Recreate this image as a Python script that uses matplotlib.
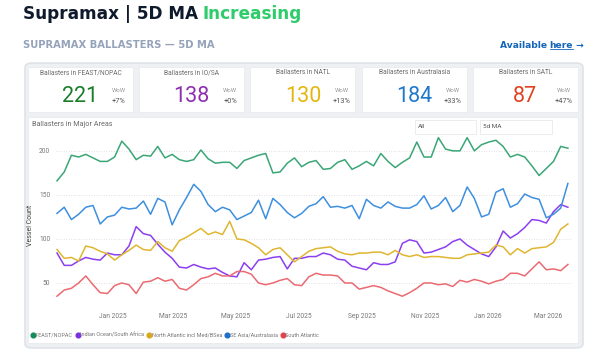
import matplotlib
matplotlib.use("Agg")
import matplotlib.pyplot as plt
import matplotlib.dates as mdates
from matplotlib.patches import FancyBboxPatch, Rectangle
from matplotlib.lines import Line2D
import pandas as pd

W, H = 605, 364

# weekly samples of the 5d MA
dates = pd.date_range("2024-11-08", periods=72, freq="7D")
feast = [166, 176, 195, 193, 196, 192, 188, 188, 193, 211, 202, 190, 195, 194, 205, 192, 196, 190,
         188, 190, 201, 191, 186, 187, 187, 180, 189, 192, 195, 197, 175, 176, 186, 192, 182,
         187, 189, 179, 180, 187, 190, 179, 183, 188, 183, 197, 188, 181, 187, 192, 210, 193,
         193, 215, 202, 200, 200, 215, 200, 207, 210, 212, 205, 193, 196, 193, 183, 172, 180, 188, 205, 203]
iosa = [84, 70, 70, 75, 79, 77, 76, 84, 82, 82, 92, 114, 106, 104, 94, 85, 78, 68,
        67, 71, 68, 66, 67, 62, 58, 57, 73, 65, 76, 77, 79, 80, 66, 78, 78,
        80, 80, 84, 82, 77, 76, 69, 67, 65, 73, 71, 71, 74, 95, 99, 97, 84,
        85, 88, 91, 97, 100, 93, 88, 83, 80, 91, 109, 101, 106, 113, 122, 121, 118, 131, 139, 136]
natl = [88, 78, 79, 75, 92, 90, 86, 83, 76, 82, 87, 93, 88, 87, 97, 90, 86, 98,
        102, 107, 112, 105, 108, 105, 120, 100, 99, 95, 90, 82, 88, 90, 82, 74, 80,
        86, 89, 90, 91, 86, 83, 82, 84, 84, 85, 85, 82, 87, 82, 80, 82, 79,
        80, 80, 79, 78, 78, 82, 83, 84, 85, 93, 91, 82, 89, 84, 89, 90, 91, 96, 111, 117]
seaus = [129, 136, 122, 128, 136, 138, 117, 125, 127, 136, 134, 135, 143, 128, 146, 142, 116, 133,
         147, 162, 154, 139, 131, 136, 133, 122, 126, 130, 144, 123, 146, 139, 130, 124, 129,
         137, 140, 148, 136, 137, 135, 138, 123, 145, 138, 135, 142, 137, 135, 135, 139, 149,
         134, 138, 147, 131, 138, 159, 146, 125, 128, 153, 157, 136, 140, 151, 147, 145, 124, 128, 135, 163]
satl = [35, 42, 44, 50, 58, 48, 39, 38, 47, 50, 48, 38, 51, 52, 56, 52, 54, 44,
        42, 48, 55, 57, 61, 58, 58, 63, 63, 60, 50, 48, 50, 53, 55, 48, 47,
        57, 61, 59, 59, 58, 50, 50, 43, 45, 47, 45, 41, 38, 35, 39, 44, 50,
        50, 48, 49, 46, 53, 51, 54, 52, 49, 52, 54, 61, 61, 58, 66, 74, 65, 66, 64, 71]

series_names = ["FEAST/NOPAC", "Indian Ocean/South Africa", "North Atlantic incl Med/BSea",
                "SE Asia/Australasia", "South Atlantic"]
line_colors = ["#3aa676", "#8b3ff0", "#dfb630", "#3d8fe0", "#ea6a72"]
legend_colors = ["#168a5a", "#7a2fe0", "#d9a91a", "#1e6fc8", "#e2424c"]

card_titles = ["Ballasters in FEAST/NOPAC", "Ballasters in IO/SA", "Ballasters in NATL",
               "Ballasters in Australasia", "Ballasters in SATL"]
card_values = ["221", "138", "130", "184", "87"]
card_wow = ["+7%", "+0%", "+13%", "+33%", "+47%"]
card_colors = ["#1b7d2c", "#8e2fb0", "#e3b712", "#1f78c8", "#e2401e"]


def fx(x):
    return x / W


def fy(y):
    return 1 - y / H


fig = plt.figure(figsize=(W / 100, H / 100), dpi=100)
fig.patch.set_facecolor("white")

# header
t1 = fig.text(fx(23), fy(14), "Supramax | 5D MA", fontsize=12.2, fontweight="bold",
              color="#0f1b2d", va="center", ha="left", family="DejaVu Sans")
fig.canvas.draw()
r = fig.canvas.get_renderer()
bb = t1.get_window_extent(r)
fig.text(bb.x1 / W + fx(5), fy(14), "Increasing", fontsize=12.2, fontweight="bold",
         color="#2ecc6a", va="center", ha="left", family="DejaVu Sans")

fig.text(fx(23), fy(45), "SUPRAMAX BALLASTERS — 5D MA", fontsize=7.2, fontweight="bold",
         color="#95a3ba", va="center", ha="left", family="DejaVu Sans")
t_arrow = fig.text(fx(584), fy(45), " →", fontsize=6.6, fontweight="bold", color="#1565b8",
                   va="center", ha="right", family="DejaVu Sans")
fig.canvas.draw()
ba = t_arrow.get_window_extent(r)
t_here = fig.text(ba.x0 / W, fy(45), "here", fontsize=6.6, fontweight="bold", color="#1565b8",
                  va="center", ha="right", family="DejaVu Sans")
fig.canvas.draw()
bh = t_here.get_window_extent(r)
fig.text(bh.x0 / W, fy(45), "Available ", fontsize=6.6, fontweight="bold", color="#1565b8",
         va="center", ha="right", family="DejaVu Sans")
fig.add_artist(Line2D([bh.x0 / W, bh.x1 / W], [bh.y0 / H + 0.002] * 2, color="#1565b8", lw=0.6))

# dashboard panel
fig.add_artist(FancyBboxPatch((fx(25), fy(348)), fx(558), 285 / H,
                              boxstyle="round,pad=0,rounding_size=0.012",
                              transform=fig.transFigure, facecolor="#eef0f3",
                              edgecolor="#dfe3e8", lw=1.2))

# KPI cards
for i in range(5):
    x0 = 28 + i * 111.2
    fig.add_artist(Rectangle((fx(x0), fy(112)), fx(105), 45 / H, transform=fig.transFigure,
                             facecolor="white", edgecolor="#e6e8eb", lw=0.5))
    cx = x0 + 52.5
    fig.text(fx(cx), fy(73), card_titles[i], fontsize=4.8, color="#6b6b6b",
             ha="center", va="center", family="Roboto")
    fig.text(fx(cx), fy(96), card_values[i], fontsize=15.5, color=card_colors[i],
             ha="center", va="center", family="Roboto")
    fig.text(fx(x0 + 91), fy(91), "WoW", fontsize=4.3, color="#9a9a9a",
             ha="center", va="center", family="Roboto")
    fig.text(fx(x0 + 91), fy(101.5), card_wow[i], fontsize=5.3, color="#555555",
             ha="center", va="center", family="Roboto")

# chart card
fig.add_artist(Rectangle((fx(28), fy(343)), fx(550), 226 / H, transform=fig.transFigure,
                         facecolor="white", edgecolor="#e6e8eb", lw=0.5))
fig.text(fx(32), fy(125), "Ballasters in Major Areas", fontsize=5.2, color="#6b6b6b",
         ha="left", va="center", family="Roboto")
for (a, b), lab in zip([(415, 476), (480, 552)], ["All", "5d MA"]):
    fig.add_artist(Rectangle((fx(a), fy(134)), fx(b - a), 14 / H, transform=fig.transFigure,
                             facecolor="white", edgecolor="#e3e5e8", lw=0.5))
    fig.text(fx(a + 3), fy(127), lab, fontsize=4.6, color="#555555",
             ha="left", va="center", family="Roboto")

ax = fig.add_axes([fx(56), fy(305), fx(516), 170 / H])
ax.set_zorder(5)
ax.set_facecolor("none")
for vals, c in zip([feast, iosa, natl, seaus, satl], line_colors):
    ax.plot(dates, vals, color=c, lw=1.1, solid_joinstyle="round")

ax.set_ylim(25, 218)
ax.set_xlim(pd.Timestamp("2024-11-07"), pd.Timestamp("2026-03-24"))
ax.set_yticks([50, 100, 150, 200])
ax.yaxis.grid(True, color="#d8d8d8", ls=(0, (1, 2)), lw=0.6)
ax.set_axisbelow(True)
ax.xaxis.set_major_locator(mdates.MonthLocator(bymonth=[1, 3, 5, 7, 9, 11]))
ax.xaxis.set_major_formatter(mdates.DateFormatter("%b %Y"))
for s in ax.spines.values():
    s.set_visible(False)
ax.tick_params(length=0, labelsize=4.8, labelcolor="#777777", pad=4)
ax.tick_params(axis="x", pad=6)
for lab in ax.get_xticklabels() + ax.get_yticklabels():
    lab.set_family("Roboto")
ax.set_ylabel("Vessel Count", fontsize=5, color="#444444", family="Roboto")
ax.yaxis.set_label_coords(-22 / 516, 0.47)

handles = [Line2D([], [], ls="none", marker="o", ms=3.4, color=c) for c in legend_colors]
fig.legend(handles, series_names, loc="center left", bbox_to_anchor=(fx(29), fy(335)),
           ncol=5, frameon=False, handletextpad=0.15, columnspacing=0.5,
           borderaxespad=0, handlelength=0.7, labelcolor="#777777",
           prop={"family": "Roboto", "size": 4.0})

fig.savefig("out.png", dpi=100, facecolor="white")
